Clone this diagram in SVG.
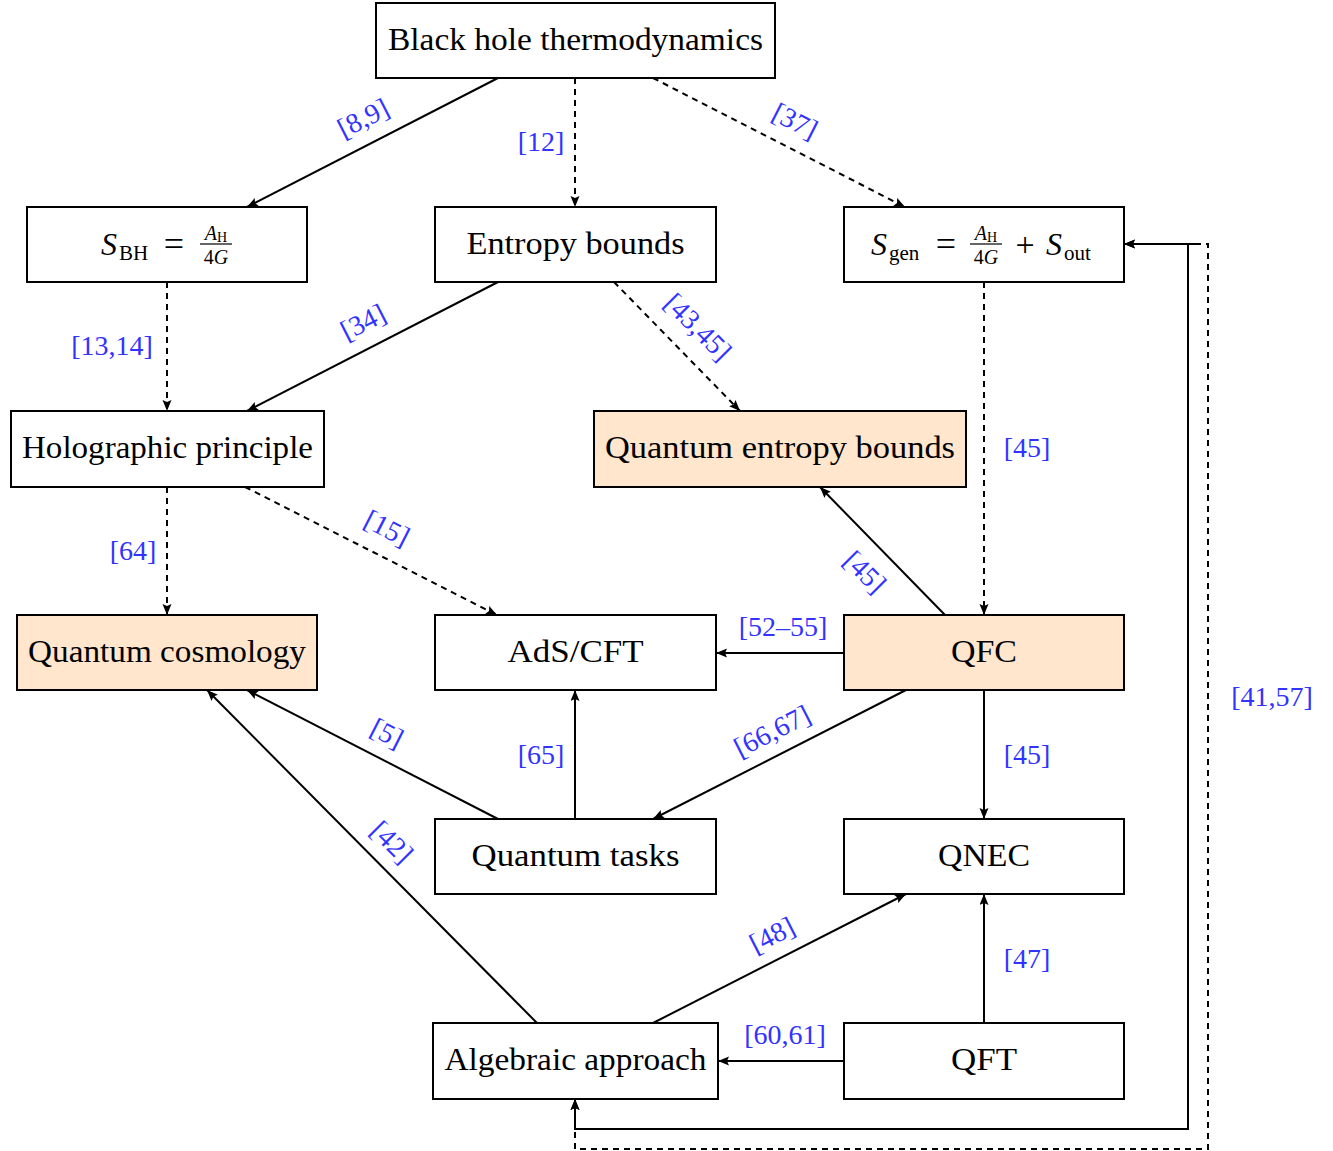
<svg xmlns="http://www.w3.org/2000/svg" width="1333" height="1151" viewBox="0 0 1333 1151">
<style>
.box{fill:#fff;stroke:#000;stroke-width:2}
.hl{fill:#FFE6CC}
.t{font-family:"Liberation Serif","DejaVu Serif",serif;font-size:32px;fill:#000;text-anchor:middle}
.m{font-family:"Liberation Serif","DejaVu Serif",serif;fill:#000}
.lb{font-family:"Liberation Serif","DejaVu Serif",serif;font-size:28px;fill:#3333ff;text-anchor:middle;dominant-baseline:central}
.e{fill:none;stroke:#000;stroke-width:2;marker-end:url(#ah)}
.d{stroke-dasharray:6 5}
</style>
<defs>
<marker id="ah" markerUnits="userSpaceOnUse" markerWidth="12" markerHeight="10" refX="11" refY="4.5" orient="auto">
<path d="M0,0 L11,4.5 L0,9 L2,4.5 Z" fill="#000"/>
</marker>
<marker id="as" markerUnits="userSpaceOnUse" markerWidth="12" markerHeight="10" refX="1" refY="4.5" orient="auto">
<path d="M12,0 L1,4.5 L12,9 L10,4.5 Z" fill="#000"/>
</marker>
</defs>

<g id="connectors">
<path class="e" d="M498,78 L247,207"/>
<path class="e d" d="M575,78 L575,207"/>
<path class="e d" d="M653,78 L905,207"/>
<path class="e d" d="M167,282 L167,411"/>
<path class="e" d="M498,282 L247,411"/>
<path class="e d" d="M614,282 L740,411"/>
<path class="e d" d="M984,282 L984,615"/>
<path class="e d" d="M167,487 L167,615"/>
<path class="e d" d="M245,487 L497,615"/>
<path class="e" d="M945,615 L820,487"/>
<path class="e" d="M844,653 L716,653"/>
<path class="e" d="M984,690 L984,819"/>
<path class="e" d="M906,690 L653,819"/>
<path class="e" d="M575,819 L575,690"/>
<path class="e" d="M498,819 L247,690"/>
<path class="e" d="M537,1023 L207,690"/>
<path class="e" d="M653,1023 L906,894"/>
<path class="e" d="M984,1023 L984,894"/>
<path class="e" d="M844,1061 L718,1061"/>
<path class="e" style="marker-start:url(#as)" d="M575,1099 L575,1129 L1188,1129 L1188,244 L1124,244"/>
<path class="e d" style="marker-start:url(#as)" d="M575,1099 L575,1149 L1208,1149 L1208,244 L1124,244"/>
<path d="M1188,244 L1197,244" stroke="#000" stroke-width="2"/>
</g>

<g id="labels">
<text class="lb" transform="translate(363,118) rotate(-27)">[8,9]</text>
<text class="lb" x="541" y="141">[12]</text>
<text class="lb" transform="translate(795,121) rotate(27)">[37]</text>
<text class="lb" x="112" y="345">[13,14]</text>
<text class="lb" transform="translate(363,322) rotate(-27)">[34]</text>
<text class="lb" transform="translate(698,327) rotate(45)">[43,45]</text>
<text class="lb" x="1027" y="447">[45]</text>
<text class="lb" x="133" y="550">[64]</text>
<text class="lb" transform="translate(387,528) rotate(27)">[15]</text>
<text class="lb" transform="translate(865,572) rotate(45)">[45]</text>
<text class="lb" x="783" y="626">[52–55]</text>
<text class="lb" x="1027" y="754">[45]</text>
<text class="lb" transform="translate(772,731) rotate(-27)">[66,67]</text>
<text class="lb" x="541" y="754">[65]</text>
<text class="lb" transform="translate(387,733) rotate(27)">[5]</text>
<text class="lb" transform="translate(392,842) rotate(45)">[42]</text>
<text class="lb" transform="translate(772,935) rotate(-27)">[48]</text>
<text class="lb" x="1027" y="958">[47]</text>
<text class="lb" x="785" y="1034">[60,61]</text>
<text class="lb" x="1272" y="696">[41,57]</text>
</g>

<g id="bht"><rect class="box" x="376" y="3" width="399" height="75"/><text class="t" x="575.5" y="50" textLength="375" lengthAdjust="spacingAndGlyphs">Black hole thermodynamics</text></g>

<g id="sbh"><rect class="box" x="27" y="207" width="280" height="75"/>
<text class="m" x="101" y="255" font-size="32" font-style="italic">S</text>
<text class="m" x="119" y="260" font-size="21">BH</text>
<text class="m" x="174" y="256" font-size="36" text-anchor="middle">=</text>
<text class="m" x="216" y="240" font-size="20" text-anchor="middle"><tspan font-style="italic">A</tspan><tspan font-size="14" dy="2">H</tspan></text>
<line x1="200" y1="244" x2="232" y2="244" stroke="#000" stroke-width="1.2"/>
<text class="m" x="216" y="264" font-size="20" text-anchor="middle">4<tspan font-style="italic">G</tspan></text>
</g>

<g id="eb"><rect class="box" x="435" y="207" width="281" height="75"/><text class="t" x="575.5" y="254" textLength="218" lengthAdjust="spacingAndGlyphs">Entropy bounds</text></g>

<g id="sgen"><rect class="box" x="844" y="207" width="280" height="75"/>
<text class="m" x="871" y="255" font-size="32" font-style="italic">S</text>
<text class="m" x="889" y="260" font-size="21">gen</text>
<text class="m" x="946" y="256" font-size="36" text-anchor="middle">=</text>
<text class="m" x="986" y="240" font-size="20" text-anchor="middle"><tspan font-style="italic">A</tspan><tspan font-size="14" dy="2">H</tspan></text>
<line x1="970" y1="244" x2="1002" y2="244" stroke="#000" stroke-width="1.2"/>
<text class="m" x="986" y="264" font-size="20" text-anchor="middle">4<tspan font-style="italic">G</tspan></text>
<text class="m" x="1025" y="256" font-size="34" text-anchor="middle">+</text>
<text class="m" x="1046" y="255" font-size="32" font-style="italic">S</text>
<text class="m" x="1064" y="260" font-size="21">out</text>
</g>

<g id="holo"><rect class="box" x="11" y="411" width="313" height="76"/><text class="t" x="167.5" y="458" textLength="291" lengthAdjust="spacingAndGlyphs">Holographic principle</text></g>

<g id="qeb"><rect class="box hl" x="594" y="411" width="372" height="76"/><text class="t" x="780" y="458" textLength="350" lengthAdjust="spacingAndGlyphs">Quantum entropy bounds</text></g>

<g id="qc"><rect class="box hl" x="17" y="615" width="300" height="75"/><text class="t" x="167" y="662" textLength="278" lengthAdjust="spacingAndGlyphs">Quantum cosmology</text></g>

<g id="ads"><rect class="box" x="435" y="615" width="281" height="75"/><text class="t" x="575.5" y="662" textLength="136" lengthAdjust="spacingAndGlyphs">AdS/CFT</text></g>

<g id="qfc"><rect class="box hl" x="844" y="615" width="280" height="75"/><text class="t" x="984" y="662" textLength="66" lengthAdjust="spacingAndGlyphs">QFC</text></g>

<g id="qt"><rect class="box" x="435" y="819" width="281" height="75"/><text class="t" x="575.5" y="866" textLength="208" lengthAdjust="spacingAndGlyphs">Quantum tasks</text></g>

<g id="qnec"><rect class="box" x="844" y="819" width="280" height="75"/><text class="t" x="984" y="866" textLength="92" lengthAdjust="spacingAndGlyphs">QNEC</text></g>

<g id="alg"><rect class="box" x="433" y="1023" width="285" height="76"/><text class="t" x="575.5" y="1070" textLength="262" lengthAdjust="spacingAndGlyphs">Algebraic approach</text></g>

<g id="qft"><rect class="box" x="844" y="1023" width="280" height="76"/><text class="t" x="984" y="1070" textLength="66" lengthAdjust="spacingAndGlyphs">QFT</text></g>
</svg>
